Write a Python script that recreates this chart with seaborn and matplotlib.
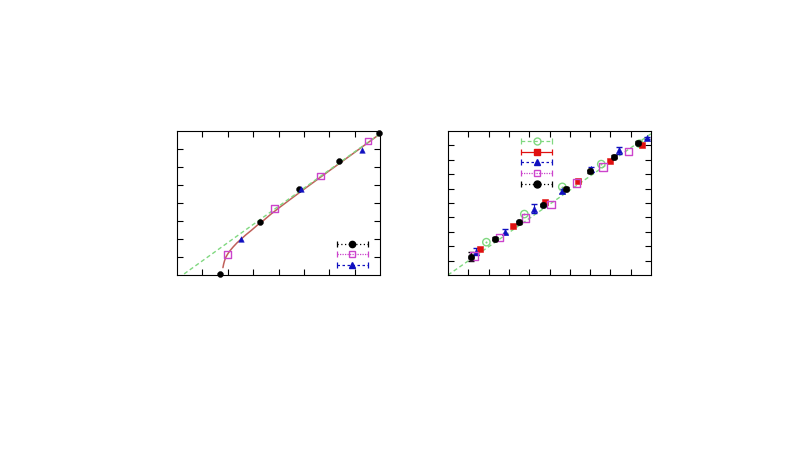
import numpy as np
import pandas as pd
import matplotlib
matplotlib.use("Agg")
import matplotlib.pyplot as plt
from matplotlib.lines import Line2D
from matplotlib.legend_handler import HandlerLine2D, HandlerTuple
import seaborn as sns

sns.set_theme(style="ticks")

# ---- left panel data ----
left_ref_x = [0.28, 8.0]
left_ref_y = [0.06, 7.85]
left_curve_x = [1.81, 1.84, 1.88, 1.93, 2.00, 2.10, 2.22, 2.36, 2.53, 2.72, 2.93, 3.16,
                3.40, 3.70, 4.00, 4.50, 5.00, 6.00, 7.00, 8.00]
left_curve_y = [0.41, 0.62, 0.82, 1.00, 1.17, 1.37, 1.57, 1.78, 2.00, 2.24, 2.48, 2.76,
                3.02, 3.38, 3.71, 4.24, 4.76, 5.79, 6.81, 7.84]
left_circ_x = [1.71, 3.27, 4.82, 6.38, 7.96]
left_circ_y = [0.06, 2.93, 4.77, 6.36, 7.89]
left_sq_x = [2.00, 3.85, 5.67, 7.53]
left_sq_y = [1.14, 3.70, 5.50, 7.44]
left_tri_x = [2.53, 4.90, 7.29]
left_tri_y = [1.98, 4.77, 6.95]

# ---- right panel data ----
right_ref_x = [0.0, 10.0]
right_ref_y = [0.0, 9.81]
green_x = [1.89, 3.76, 5.63, 7.55, 9.44]
green_y = [2.28, 4.23, 6.12, 7.70, 9.12]
red_x = [1.60, 3.18, 4.78, 6.38, 7.99, 9.57]
red_y = [1.79, 3.42, 5.05, 6.56, 7.91, 9.02]
blue_x = [1.40, 2.80, 4.22, 5.62, 7.03, 8.43, 9.82]
blue_y = [1.63, 3.02, 4.60, 5.81, 7.33, 8.65, 9.51]
blue_err = [0.25, 0.15, 0.3, 0.15, 0.15, 0.25, 0.1]
black_x = [1.12, 2.31, 3.49, 4.66, 5.83, 7.00, 8.17, 9.36]
black_y = [1.28, 2.51, 3.67, 4.86, 5.98, 7.19, 8.21, 9.19]
black_err = [0.3, 0.1, 0.1, 0.1, 0.1, 0.1, 0.1, 0.1]
pink_x = [1.28, 2.55, 3.82, 5.07, 6.34, 7.63, 8.88]
pink_y = [1.33, 2.60, 3.95, 4.88, 6.40, 7.51, 8.56]

GREEN = "#80d880"
RED = "#e01010"
BLUE = "#1010c0"
PINK = "#cc44cc"
CURVE = "#c0605a"

fig = plt.figure(figsize=(8, 4.5), dpi=100)
ax0 = fig.add_axes([177 / 800, 1 - 275 / 450, 203 / 800, 144 / 450])
ax1 = fig.add_axes([448 / 800, 1 - 275 / 450, 203 / 800, 144 / 450])


def style_axes(ax, n):
    ax.set_xlim(0, n)
    ax.set_ylim(0, n)
    ax.set_xticks(np.arange(1, n))
    ax.set_yticks(np.arange(1, n))
    ax.tick_params(direction="in", length=4, width=0.8, top=True, right=True,
                   labelbottom=False, labelleft=False, color="black")
    for s in ax.spines.values():
        s.set_color("black")
        s.set_linewidth(0.8)
    ax.set_xlabel("")
    ax.set_ylabel("")


def legend_entry(color, ls, marker, mfc, ms):
    caps = Line2D([], [], color=color, ls=ls, lw=0.9, marker="|", ms=5, mew=0.9)
    mark = Line2D([], [], color=color, ls="none", marker=marker, ms=ms,
                  mfc=mfc, mec=color, mew=1.0)
    return (caps, mark)


def add_legend(ax, handles, **kw):
    hmap = {tuple: HandlerTuple(ndivide=1)}
    for caps, mark in handles:
        hmap[caps] = HandlerLine2D(numpoints=2, marker_pad=0)
        hmap[mark] = HandlerLine2D(numpoints=1)
    ax.legend(handles, [""] * len(handles), handler_map=hmap, frameon=False,
              handlelength=3.2, handletextpad=0, labelspacing=0.07,
              borderpad=0.1, borderaxespad=0, fontsize=7, **kw)


# left panel
sns.lineplot(x=left_curve_x, y=left_curve_y, ax=ax0, color=CURVE, lw=1.1, sort=False)
sns.lineplot(x=left_ref_x, y=left_ref_y, ax=ax0, color=GREEN, lw=1.0, ls=(0, (3, 2)))
sns.scatterplot(x=left_circ_x, y=left_circ_y, ax=ax0, color="black", marker="o",
                s=18, edgecolor="black", zorder=5, clip_on=False)
sns.scatterplot(x=left_sq_x, y=left_sq_y, ax=ax0, marker="s", s=24,
                facecolor="none", edgecolor=PINK, linewidth=1.0, zorder=5)
sns.scatterplot(x=left_tri_x, y=left_tri_y, ax=ax0, color=BLUE, marker="^",
                s=16, edgecolor=BLUE, zorder=5)
style_axes(ax0, 8)

add_legend(ax0, [
    legend_entry("black", (0, (1, 2)), "o", "black", 4.5),
    legend_entry(PINK, (0, (1, 1)), "s", "none", 5),
    legend_entry(BLUE, (0, (2, 2)), "^", BLUE, 4),
], loc="lower right", bbox_to_anchor=(0.945, 0.025))

# right panel
sns.lineplot(x=right_ref_x, y=right_ref_y, ax=ax1, color=GREEN, lw=1.0, ls=(0, (3, 2)))
ax1.errorbar(blue_x, blue_y, yerr=blue_err, fmt="none", ecolor=BLUE, elinewidth=0.8, capsize=2)
ax1.errorbar(black_x, black_y, yerr=black_err, fmt="none", ecolor="black", elinewidth=0.8, capsize=2)
sns.scatterplot(x=green_x, y=green_y, ax=ax1, marker="o", s=28, facecolor="none",
                edgecolor=GREEN, linewidth=1.0, zorder=5)
sns.scatterplot(x=green_x, y=green_y, ax=ax1, marker=".", s=6, color=GREEN,
                edgecolor=GREEN, zorder=5)
sns.scatterplot(x=red_x, y=red_y, ax=ax1, marker="s", s=22, color=RED,
                edgecolor=RED, zorder=5)
sns.scatterplot(x=blue_x, y=blue_y, ax=ax1, marker="^", s=20, color=BLUE,
                edgecolor=BLUE, zorder=5)
sns.scatterplot(x=pink_x, y=pink_y, ax=ax1, marker="s", s=28, facecolor="none",
                edgecolor=PINK, linewidth=1.0, zorder=5)
sns.scatterplot(x=black_x, y=black_y, ax=ax1, marker="o", s=22, color="black",
                edgecolor="black", zorder=6)
style_axes(ax1, 10)

add_legend(ax1, [
    legend_entry(GREEN, (0, (3, 2)), "o", "none", 5),
    legend_entry(RED, "-", "s", RED, 5),
    legend_entry(BLUE, (0, (2, 2)), "^", BLUE, 4.5),
    legend_entry(PINK, (0, (1, 1)), "s", "none", 5),
    legend_entry("black", (0, (1, 2)), "o", "black", 5),
], loc="upper left", bbox_to_anchor=(0.355, 0.97))

fig.savefig("out.png", dpi=100)
